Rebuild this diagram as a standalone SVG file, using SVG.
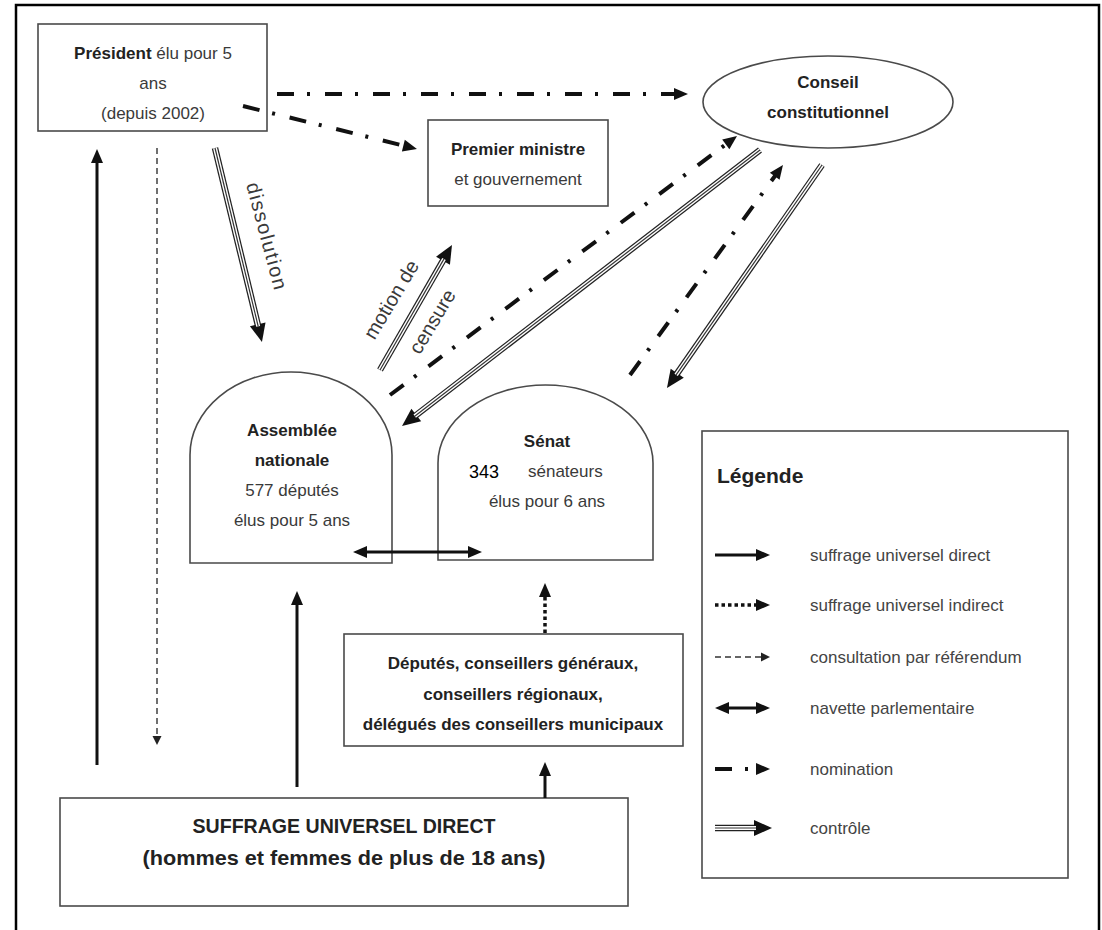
<svg xmlns="http://www.w3.org/2000/svg" width="1102" height="930" viewBox="0 0 1102 930">
<style>
text{font-family:"Liberation Sans",Arial,sans-serif;fill:#3a3a3a;font-size:17px}
.b{font-weight:bold;fill:#222}
.box{fill:#fff;stroke:#4a4a4a;stroke-width:1.6}
.solid{fill:none;stroke:#111;stroke-width:3}
.dot{fill:none;stroke:#111;stroke-width:3.5;stroke-dasharray:3.5 3}
.dash{fill:none;stroke:#333;stroke-width:1.4;stroke-dasharray:6 4}
.nom{fill:none;stroke:#111;stroke-width:4;stroke-dasharray:17 13 3 15}
.c1{fill:none;stroke:#222;stroke-width:6.5}
.c2{fill:none;stroke:#fff;stroke-width:4}
.c3{fill:none;stroke:#333;stroke-width:1.2}
.lg{fill:#444}
</style>
<defs>
<marker id="mBig" markerUnits="userSpaceOnUse" orient="auto" refX="0" refY="0" markerWidth="30" markerHeight="30" overflow="visible"><path d="M-2,-8 L16,0 L-2,8 Z" fill="#111"/></marker>
<marker id="mMed" markerUnits="userSpaceOnUse" orient="auto" refX="0" refY="0" markerWidth="30" markerHeight="30" overflow="visible"><path d="M-2,-6 L12,0 L-2,6 Z" fill="#111"/></marker>
<marker id="mMedS" markerUnits="userSpaceOnUse" orient="auto-start-reverse" refX="0" refY="0" markerWidth="30" markerHeight="30" overflow="visible"><path d="M-2,-6 L12,0 L-2,6 Z" fill="#111"/></marker>
<marker id="mSm" markerUnits="userSpaceOnUse" orient="auto" refX="0" refY="0" markerWidth="20" markerHeight="20" overflow="visible"><path d="M-1,-4.5 L8,0 L-1,4.5 Z" fill="#222"/></marker>
</defs>
<rect width="1102" height="930" fill="#fff"/>
<path d="M16,935 V5 H1099 V935" fill="none" stroke="#000" stroke-width="2.5"/>

<g id="president">
<rect class="box" x="38" y="24" width="229" height="107"/>
<text x="153" y="59" text-anchor="middle"><tspan class="b">Président</tspan> élu pour 5</text>
<text x="153" y="89" text-anchor="middle">ans</text>
<text x="153" y="119" text-anchor="middle">(depuis 2002)</text>
</g>

<g id="premier-ministre">
<rect class="box" x="428" y="120" width="180" height="86"/>
<text class="b" x="518" y="155" text-anchor="middle">Premier ministre</text>
<text x="518" y="185" text-anchor="middle">et gouvernement</text>
</g>

<g id="conseil">
<ellipse class="box" cx="828" cy="102" rx="125" ry="46" stroke-width="1.3"/>
<text class="b" x="828" y="88" text-anchor="middle">Conseil</text>
<text class="b" x="828" y="118" text-anchor="middle">constitutionnel</text>
</g>

<g id="assemblee">
<path class="box" d="M190,563 L190,455 A101,83 0 0 1 392,455 L392,563 Z" stroke-width="1.3"/>
<text class="b" x="292" y="436" text-anchor="middle">Assemblée</text>
<text class="b" x="292" y="466" text-anchor="middle">nationale</text>
<text x="292" y="496" text-anchor="middle">577 députés</text>
<text x="292" y="526" text-anchor="middle">élus pour 5 ans</text>
</g>

<g id="senat">
<path class="box" d="M438,560 L438,463 A107.5,78 0 0 1 653,463 L653,560 Z" stroke-width="1.3"/>
<text class="b" x="547" y="447" text-anchor="middle">Sénat</text>
<text x="469" y="478" style="fill:#000;font-size:18px">343</text>
<text x="528" y="477">sénateurs</text>
<text x="547" y="507" text-anchor="middle">élus pour 6 ans</text>
</g>

<g id="deputes">
<rect class="box" x="344" y="634" width="339" height="112"/>
<text class="b" x="513" y="669" text-anchor="middle">Députés, conseillers généraux,</text>
<text class="b" x="513" y="700" text-anchor="middle">conseillers régionaux,</text>
<text class="b" x="513" y="730" text-anchor="middle">délégués des conseillers municipaux</text>
</g>

<g id="suffrage">
<rect class="box" x="60" y="798" width="568" height="108"/>
<text class="b" x="344" y="833" text-anchor="middle" style="font-size:21px" textLength="303" lengthAdjust="spacingAndGlyphs">SUFFRAGE UNIVERSEL DIRECT</text>
<text class="b" x="344" y="865" text-anchor="middle" style="font-size:21px" textLength="403" lengthAdjust="spacingAndGlyphs">(hommes et femmes de plus de 18 ans)</text>
</g>

<g id="connectors">
<path class="solid" d="M97,765 V161" marker-end="url(#mMed)"/>
<path class="dash" d="M157,148 V737" marker-end="url(#mSm)"/>
<path class="nom" d="M277,94 H676" marker-end="url(#mMed)"/>
<path class="nom" d="M243,106 L405.3,146.1" marker-end="url(#mMed)"/>
<g id="dissolution">
<path class="c1" d="M215,148 L258.2,326.4" marker-end="url(#mBig)"/>
<path class="c2" d="M215,148 L258.2,326.4"/>
<path class="c3" d="M215,148 L258.2,326.4"/>
<text transform="translate(266,236) rotate(75)" x="0" y="6" text-anchor="middle" style="font-size:20px" textLength="110">dissolution</text>
</g>
<g id="motion">
<path class="c1" d="M380,370 L444,258.9" marker-end="url(#mBig)"/>
<path class="c2" d="M380,370 L444,258.9"/>
<path class="c3" d="M380,370 L444,258.9"/>
<text transform="translate(392,300) rotate(-59)" x="0" y="6" text-anchor="middle" style="font-size:20px">motion de</text>
<text transform="translate(433,322) rotate(-59)" x="0" y="6" text-anchor="middle" style="font-size:20px">censure</text>
</g>
<path class="nom" d="M390,395 L727.4,143.2" marker-end="url(#mMed)"/>
<path class="c1" d="M760,150 L414.7,416.2" marker-end="url(#mBig)"/>
<path class="c2" d="M760,150 L414.7,416.2"/>
<path class="c3" d="M760,150 L414.7,416.2"/>
<path class="nom" d="M630,375 L775.9,174.7" marker-end="url(#mMed)"/>
<path class="c1" d="M822,165 L676.1,374.9" marker-end="url(#mBig)"/>
<path class="c2" d="M822,165 L676.1,374.9"/>
<path class="c3" d="M822,165 L676.1,374.9"/>
<path class="solid" d="M365,552 H470" stroke-width="3.5" marker-start="url(#mMedS)" marker-end="url(#mMedS)"/>
<path class="solid" d="M297,787 V603" marker-end="url(#mMed)"/>
<path class="dot" d="M545,633 V595" marker-end="url(#mMed)"/>
<path class="solid" d="M545,798 V774" marker-end="url(#mMed)"/>
</g>

<g id="legende">
<rect class="box" x="702" y="431" width="366" height="447"/>
<text class="b" x="717" y="483" style="font-size:21px">Légende</text>
<path class="solid" d="M715,555 H758" stroke-width="3.5" marker-end="url(#mMed)"/>
<text class="lg" x="810" y="561">suffrage universel direct</text>
<path class="dot" d="M715,605 H758" marker-end="url(#mMed)"/>
<text class="lg" x="810" y="611">suffrage universel indirect</text>
<path class="dash" d="M715,657 H762" stroke-dasharray="5 3" marker-end="url(#mSm)"/>
<text class="lg" x="810" y="663">consultation par référendum</text>
<path class="solid" d="M727,708 H758" stroke-width="3.5" marker-start="url(#mMedS)" marker-end="url(#mMedS)"/>
<text class="lg" x="810" y="714">navette parlementaire</text>
<path class="nom" d="M715,769 H758" stroke-dasharray="17 8 3 30" marker-end="url(#mMed)"/>
<text class="lg" x="810" y="775">nomination</text>
<path class="c1" d="M715,828 H756" marker-end="url(#mBig)"/>
<path class="c2" d="M715,828 H756"/>
<path class="c3" d="M715,828 H756"/>
<text class="lg" x="810" y="834">contrôle</text>
</g>
</svg>
